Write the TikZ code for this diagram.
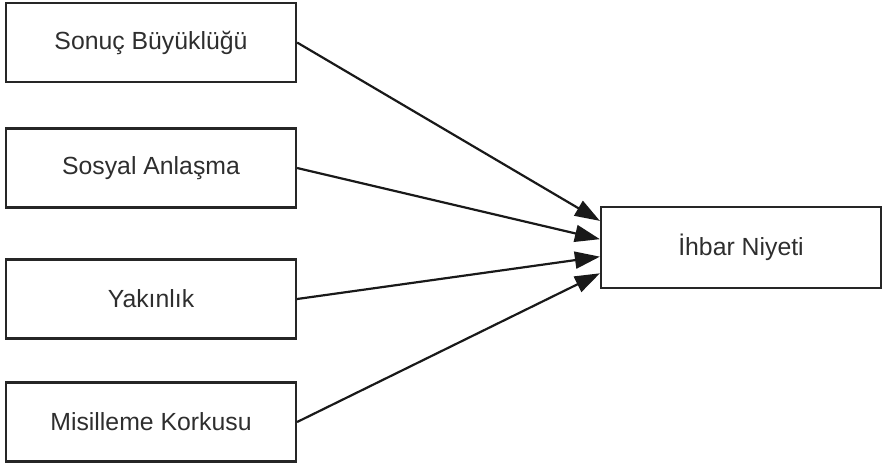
\documentclass[tikz,border=0pt]{standalone}
\usepackage{fontspec}
\setmainfont{Liberation Sans}
\usetikzlibrary{positioning,
        arrows.meta,
        calc}
\usepackage{xcolor}

\begin{document}
\begin{tikzpicture}[x=0.5pt,y=-0.5pt,
        box/.style={rectangle,draw=black!85,line width=1.1pt,text=black!82,minimum width=145pt,minimum height=39.5pt,font=\fontsize{12.4}{15}\selectfont},
        arr/.style={draw=black!90,line width=1.1pt,-{Triangle[length=12.5pt,width=8.5pt]}}]
        \useasboundingbox (0,0) rectangle (886,466);
        \node [box] (1) at (151,42.5) {Sonuç Büyüklüğü};
        \node [box] (2) at (151,168) {Sosyal Anlaşma};
        \node [box] (3) at (151,299) {Yakınlık};
        \node [box] (4) at (151,422) {Misilleme Korkusu};
        \node [box,minimum width=140pt,minimum height=40.5pt] (5) at (741,247.5) {İhbar Niyeti};
        
        \draw [arr] (1.east) -- ($(5.north west)!0.18!(5.south west)$);
        \draw [arr] (2.east) -- ($(5.north west)!0.40!(5.south west)$);
        \draw [arr] (3.east) -- ($(5.north west)!0.61!(5.south west)$);
        \draw [arr] (4.east) -- ($(5.north west)!0.81!(5.south west)$);
    \end{tikzpicture}
\end{document}
